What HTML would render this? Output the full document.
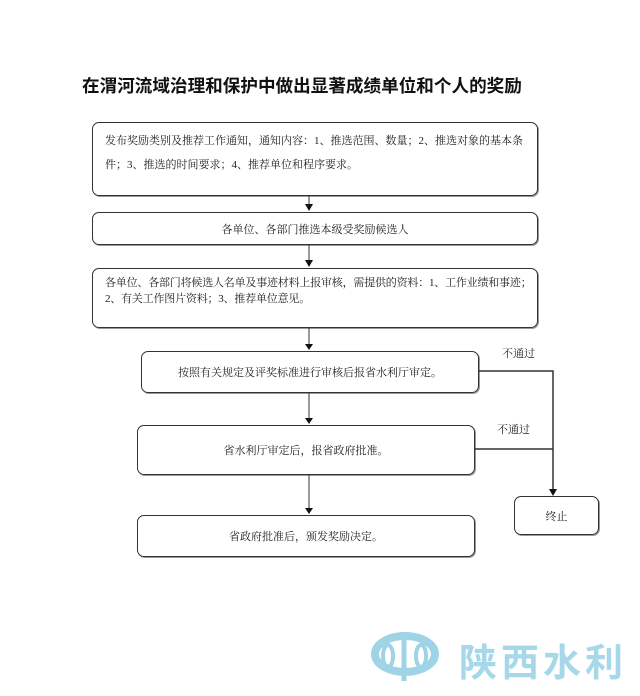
<!DOCTYPE html>
<html><head><meta charset="utf-8"><style>
body{margin:0;width:640px;height:696px;background:#fff;position:relative;overflow:hidden;font-family:"Liberation Serif","Noto Serif CJK SC",serif;color:#222}
.b{position:absolute;border:1px solid #333;border-radius:7px;box-sizing:border-box;font-size:11px;box-shadow:1px 1px 0 #999}
.c{display:flex;align-items:center;justify-content:center}
.t{position:absolute;font-size:11px}
</style></head><body>
<div style="position:absolute;left:82px;top:73px;font-size:17.6px;font-weight:bold;font-family:'Liberation Sans','Noto Sans CJK SC',sans-serif;white-space:nowrap;color:#111">在渭河流域治理和保护中做出显著成绩单位和个人的奖励</div>
<div class="b" style="left:92px;top:122px;width:446px;height:74px;padding:6px 4px 0 12px;line-height:24px">发布奖励类别及推荐工作通知，通知内容：1、推选范围、数量；2、推选对象的基本条件；3、推选的时间要求；4、推荐单位和程序要求。</div>
<div class="b c" style="left:92px;top:212px;width:446px;height:33px">各单位、各部门推选本级受奖励候选人</div>
<div class="b" style="left:92px;top:268px;width:446px;height:60px;padding:6px 0 0 12px;line-height:16px;letter-spacing:-0.2px">各单位、各部门将候选人名单及事迹材料上报审核，需提供的资料：1、工作业绩和事迹；2、有关工作图片资料；3、推荐单位意见。</div>
<div class="b c" style="left:141px;top:351px;width:338px;height:42px">按照有关规定及评奖标准进行审核后报省水利厅审定。</div>
<div class="b c" style="left:137px;top:425px;width:338px;height:50px">省水利厅审定后，报省政府批准。</div>
<div class="b c" style="left:137px;top:515px;width:338px;height:42px">省政府批准后，颁发奖励决定。</div>
<div class="b c" style="left:514px;top:496px;width:85px;height:39px">终止</div>
<div class="t" style="left:502px;top:345px">不通过</div>
<div class="t" style="left:497px;top:421px">不通过</div>
<svg style="position:absolute;left:0;top:0" width="640" height="696">
<g stroke="#333" fill="none" stroke-width="1">
<path d="M309 196V206M309 245V262M309 328V345M309 393V419M309 475V509"/>
<path d="M479 371H553V490M475 449H553" stroke-width="1.5"/>
</g>
<g fill="#111">
<path d="M305 204h8l-4 7z"/><path d="M305 260h8l-4 7z"/><path d="M305 344h8l-4 6z"/><path d="M305 418h8l-4 6z"/><path d="M305 508h8l-4 6z"/><path d="M549 489h8l-4 7z"/>
</g>
<g stroke="#9fd3e6" fill="none">
<ellipse cx="405" cy="654" rx="30" ry="18" stroke-width="8"/>
<ellipse cx="388" cy="656" rx="5" ry="11" stroke-width="4"/>
<ellipse cx="421" cy="656" rx="5" ry="11" stroke-width="4"/>
<path d="M404 632V681" stroke-width="5"/>
</g>
<text x="459" y="676" font-size="38" fill="#a6d8ea" font-family="Noto Sans CJK SC,sans-serif" font-weight="bold" letter-spacing="4">陕西水利</text>
</svg>
</body></html>
